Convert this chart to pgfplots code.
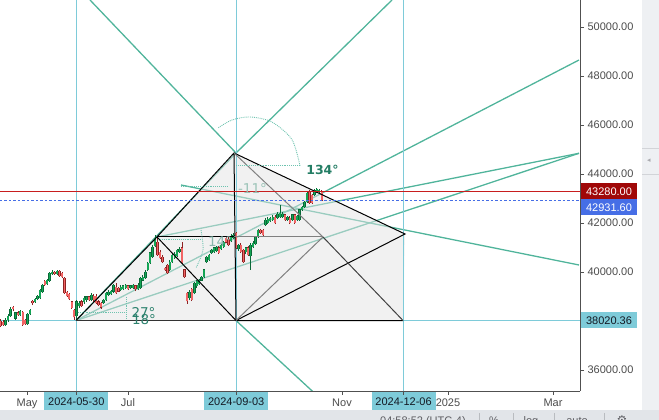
\documentclass[border=0pt]{standalone}
\usepackage{fontspec}
\setmainfont{Liberation Sans}
\newfontfamily\dejavu{DejaVu Sans}
\usepackage{pgfplots}
\pgfplotsset{compat=1.18}
\usepackage{pgfplotstable}

\definecolor{teal1}{RGB}{80,180,155}
\definecolor{tealdot}{RGB}{110,195,175}
\definecolor{vblue}{RGB}{126,203,217}
\definecolor{gfill}{RGB}{20,165,85}
\definecolor{gline}{RGB}{10,105,55}
\definecolor{rfill}{RGB}{242,100,100}
\definecolor{rline}{RGB}{140,35,35}
\definecolor{pricered}{RGB}{160,8,8}
\definecolor{redline}{RGB}{200,30,30}
\definecolor{lastblue}{RGB}{70,110,230}
\definecolor{axgray}{RGB}{80,80,80}
\definecolor{txtgray}{RGB}{75,75,75}
\definecolor{dteal}{RGB}{35,125,100}
\definecolor{shade}{RGB}{228,228,228}
\definecolor{angA}{RGB}{155,195,183}
\definecolor{angB}{RGB}{120,172,160}
\definecolor{angC}{RGB}{45,130,110}
\definecolor{labdark}{RGB}{20,25,35}
\definecolor{stripgray}{RGB}{238,240,243}
\definecolor{stripline}{RGB}{210,212,216}
\definecolor{arrowgray}{RGB}{170,170,175}
\definecolor{toolgray}{RGB}{226,229,233}
\definecolor{sepgray}{RGB}{185,188,192}
\definecolor{tooltext}{RGB}{95,95,100}

\pgfplotstableread{
x o h l c
5.6 37837 38122 37796 38041
8.1 38041 38286 37959 38204
10.5 38204 38571 38163 38490
15.4 38122 38367 38041 38327
20.3 38245 38449 38204 38408
27.7 37878 38327 37837 38286
30.1 38286 38490 38245 38449
35.0 38776 38939 38735 38898
37.5 38898 39061 38857 39020
39.9 38939 39306 38898 39265
42.4 39184 39510 39143 39469
47.3 39510 39714 39469 39673
49.7 39633 40000 39592 39959
52.2 39918 40082 39878 40000
57.1 39918 40082 39878 40041
76.7 38204 38857 38041 38776
79.1 38612 38816 38531 38735
84.0 38776 39020 38694 38939
86.5 38857 39020 38776 38980
91.4 38857 39143 38816 39061
103.6 38735 38898 38694 38857
106.1 38857 39184 38816 39143
108.5 39061 39265 39020 39184
111.0 39102 39265 39061 39224
113.4 39224 39510 39143 39469
120.8 39265 39469 39224 39388
123.2 39306 39469 39265 39429
125.7 39347 39510 39306 39469
130.6 39347 39469 39306 39429
133.0 39347 39510 39306 39469
137.9 39306 39551 39265 39469
140.4 39347 39796 39306 39755
142.8 39673 39878 39633 39796
145.3 39755 40082 39714 40000
147.7 40082 40408 40041 40367
150.2 40367 40816 40327 40776
152.6 40612 41102 40571 41020
155.1 41061 41510 41020 41388
169.8 40082 40490 40041 40408
172.2 40408 40735 40367 40694
174.7 40571 40816 40531 40735
177.1 40653 40939 40612 40898
179.6 40816 41020 40776 40939
189.4 38939 39265 38857 39184
194.3 39143 39592 39102 39551
196.7 39429 39673 39347 39633
199.2 39510 39714 39469 39673
201.6 39673 39837 39633 39796
204.1 39796 40122 39755 40082
206.5 40408 40653 40367 40612
209.0 40490 40735 40449 40694
211.4 40776 40939 40735 40898
213.9 40816 41020 40776 40980
216.3 40857 41061 40816 41020
221.2 40939 41143 40898 41102
223.7 41020 41265 40980 41224
231.0 41265 41551 41224 41469
233.5 41388 41592 41347 41510
238.4 40939 41143 40857 41102
245.7 40816 41020 40735 40980
250.6 40653 41184 40082 41102
253.1 41020 41265 40980 41184
255.5 41143 41469 41102 41429
258.0 41429 41755 41388 41714
265.3 41918 42204 41878 42122
267.8 42000 42245 41959 42163
270.2 42082 42245 42041 42204
272.7 42122 42327 42082 42245
277.6 42204 42449 42163 42367
280.0 42245 42735 42204 42408
282.5 42245 42449 42204 42367
287.4 42122 42286 42082 42245
292.3 42122 42367 42082 42327
297.2 42122 42327 42082 42286
299.6 42122 42571 42082 42531
302.1 42531 42694 42490 42653
304.5 42653 42898 42612 42857
307.0 42857 43265 42816 43224
314.3 43143 43388 43102 43347
316.8 43265 43429 43224 43388
319.2 43265 43388 43184 43347
}\greentab

\pgfplotstableread{
x o h l c
0.7 38000 38082 37755 37796
3.2 37959 38041 37796 37837
13.0 38571 38612 38408 38490
17.9 38327 38408 38204 38245
22.8 38367 38408 37796 37837
25.2 38041 38082 37837 37878
32.6 38816 38857 38653 38735
44.8 39633 39673 39429 39469
54.6 40000 40041 39878 39918
59.5 40041 40082 39796 39837
62.0 39959 40000 39755 39796
64.4 39755 39796 39102 39143
66.9 39184 39224 38980 39020
69.3 39102 39143 38857 38898
71.8 38776 38816 38490 38531
74.2 38449 38490 38041 38163
81.6 38776 38857 38571 38612
88.9 38980 39020 38816 38857
93.8 39020 39102 38776 38857
96.3 39020 39102 38694 38735
98.7 38776 38857 38612 38653
101.2 38735 38776 38490 38571
115.9 39388 39551 39102 39143
118.3 39347 39388 39184 39224
128.1 39429 39469 39265 39306
135.5 39429 39469 39224 39306
157.5 41224 41429 40653 40694
160.0 40816 40898 40531 40571
162.4 40612 40694 40367 40408
164.9 40163 40204 40041 40082
167.3 40286 40327 39918 39959
182.0 40980 41224 40327 40367
184.5 40082 40122 39755 39796
186.9 39143 39184 38694 38816
191.8 39306 39347 38816 38857
218.8 40980 41061 40735 40776
226.1 41388 41429 41184 41224
228.6 41347 41429 41061 41102
235.9 41592 41633 40939 40980
240.8 41102 41184 40776 40816
243.3 40898 40939 40367 40408
248.2 40980 41061 40653 40694
260.4 41714 41755 41551 41592
262.9 41714 41755 41469 41510
275.1 42245 42327 41959 42000
284.9 42327 42367 42082 42122
289.8 42204 42286 41959 42000
294.7 42327 42367 41959 42000
309.4 43265 43347 42776 42816
311.9 43143 43184 42776 42816
321.7 43265 43347 42920 42932
}\redtab

\pgfplotsset{
  cndl/.style 2 args={draw=none, mark=none, forget plot,
    error bars/.cd, y dir=plus, y explicit, error mark=none,
    error bar style={line width=#1, draw=#2, solid}},
}

\begin{document}
\begin{tikzpicture}
\begin{axis}[
  at={(0,0)}, anchor=south west,
  scale only axis, width=580pt, height=391pt,
  xmin=0, xmax=580, ymin=35143, ymax=51102,
  axis x line*=bottom, axis y line*=right,
  axis line style={draw=axgray, line width=0.8pt},
  tick style={draw=axgray, line width=0.8pt},
  tick align=outside, major tick length=4pt,
  xtick={27,128,342,448,553}, xticklabels={May,Jul,Nov,2025,Mar},
  ytick={36000,38000,40000,42000,44000,46000,48000,50000},
  yticklabels={36000.00,,40000.00,42000.00,44000.00,46000.00,48000.00,50000.00},
  ticklabel style={font=\fontsize{11}{13}\selectfont, text=txtgray},
  yticklabel style={anchor=west},
  clip=true,
]
% fan lines under the shading
\addplot[teal1, line width=1.3pt] coordinates {(76,38020) (579,44845)};
\addplot[teal1, line width=1.3pt] coordinates {(157,41429) (579,44845)};
\addplot[teal1, line width=1.3pt] coordinates {(76,38020) (579,48653)};
\addplot[teal1, line width=1.3pt] coordinates {(181,43551) (579,40286)};
\addplot[teal1, line width=1.3pt] coordinates {(76,38020) (236,44857)};
% shading
\addplot[draw=none, fill=shade, fill opacity=0.5] coordinates {(76,38020) (157,41429) (234,44857) (236,38020)};
\addplot[draw=none, fill=shade, fill opacity=0.5] coordinates {(234,44857) (405,41551) (403,38020) (236,38020)};
% other teal lines
\addplot[teal1, line width=1.3pt] coordinates {(90,51102) (236,44857)};
\addplot[teal1, line width=1.3pt] coordinates {(236,44857) (392,51102)};
\addplot[teal1, line width=1.3pt] coordinates {(236,38020) (318.6,34900)};
% reference lines
\addplot[vblue, line width=1pt] coordinates {(76.5,34000) (76.5,52000)};
\addplot[vblue, line width=1pt] coordinates {(236,34000) (236,52000)};
\addplot[vblue, line width=1pt] coordinates {(403.3,34000) (403.3,52000)};
\addplot[vblue, line width=1pt] coordinates {(0,38020.36) (580,38020.36)};
% candles: wicks, outlines, bodies
\addplot[cndl={0.7pt}{gline}] table[x=x, y=l, y error plus expr={\thisrow{h}-\thisrow{l}}] \greentab;
\addplot[cndl={0.7pt}{rline}] table[x=x, y=l, y error plus expr={\thisrow{h}-\thisrow{l}}] \redtab;
\addplot[cndl={2.4pt}{gline}] table[x=x, y expr={min(\thisrow{o},\thisrow{c})-20}, y error plus expr={abs(\thisrow{o}-\thisrow{c})+40}] \greentab;
\addplot[cndl={2.4pt}{rline}] table[x=x, y expr={min(\thisrow{o},\thisrow{c})-20}, y error plus expr={abs(\thisrow{o}-\thisrow{c})+40}] \redtab;
\addplot[cndl={1.6pt}{gfill}] table[x=x, y expr={min(\thisrow{o},\thisrow{c})}, y error plus expr={abs(\thisrow{o}-\thisrow{c})}] \greentab;
\addplot[cndl={1.6pt}{rfill}] table[x=x, y expr={min(\thisrow{o},\thisrow{c})}, y error plus expr={abs(\thisrow{o}-\thisrow{c})}] \redtab;
% black / gray pattern lines
\addplot[black, line width=1pt] coordinates {(76,38020) (157,41429) (234,44857) (236,38020) (403,38020)};
\addplot[black!80, line width=1pt] coordinates {(76,38020) (236,38020)};
\addplot[black, line width=1pt] coordinates {(157,41429) (236,38020) (405,41551) (234,44857)};
\addplot[black, line width=1pt] coordinates {(157,41429) (234,41429)};
\addplot[gray, line width=1pt] coordinates {(234,41429) (323,41429)};
\addplot[gray, line width=1pt] coordinates {(234,44857) (323,41429) (236,38020)};
\addplot[black!75, line width=1pt] coordinates {(323,41429) (403,38020)};
% dotted angle helpers
\addplot[tealdot, densely dotted, line width=0.9pt, smooth] coordinates {(300,44330) (292,45400) (272,46120) (250,46327) (232,46204) (218,45878)};
\addplot[tealdot, densely dotted, line width=0.9pt] coordinates {(236,44330) (300,44330)};
\addplot[tealdot, densely dotted, line width=0.9pt] coordinates {(181,43510) (228,43510)};
\addplot[tealdot, densely dotted, line width=0.9pt] coordinates {(78,38367) (126,38367)};
\addplot[tealdot, densely dotted, line width=0.9pt] coordinates {(126,38980) (126,38122)};
\addplot[tealdot, densely dotted, line width=0.9pt] coordinates {(158,41335) (201,41335)};
\addplot[tealdot, densely dotted, line width=0.9pt, smooth] coordinates {(201,41714) (203,40898) (196,40163)};
% last price line
\addplot[draw=lastblue, line width=0.9pt, dash pattern=on 2.5pt off 2pt] coordinates {(0,42931.6) (580,42931.6)};
\end{axis}

\begin{scope}[x=1pt, y=-1pt, shift={(0pt,391pt)}]
% horizontal price line at 43280
\fill[redline] (0,190.9) rectangle (580,192.3);
% angle labels
\node[font=\dejavu\bfseries\fontsize{12.5}{14}\selectfont, text=dteal] at (322.5,169.5) {134°};
\node[font=\dejavu\fontsize{13.5}{15}\selectfont, text=angA] at (252.5,188) {-11°};
\node[font=\dejavu\fontsize{13.5}{15}\selectfont, text=angB, opacity=0.85] at (220,241) {14°};
\node[font=\dejavu\fontsize{13.5}{15}\selectfont, text=angC] at (143.5,312.5) {27°};
\node[font=\dejavu\fontsize{13.5}{15}\selectfont, text=angC] at (144,319.5) {18°};
% right price boxes
\fill[pricered] (580.5,183.5) rectangle (637,199.5);
\node[text=white, font=\fontsize{11}{13}\selectfont] at (609,191.5) {43280.00};
\fill[lastblue] (580.5,199.5) rectangle (637,215.5);
\node[text=white, font=\fontsize{11}{13}\selectfont] at (609,207.5) {42931.60};
\fill[vblue] (580.5,312.5) rectangle (637,328.5);
\node[text=labdark, font=\fontsize{11}{13}\selectfont] at (609,320.5) {38020.36};
% date boxes
\foreach \cx/\lab in {76.3/2024-05-30, 236.2/2024-09-03, 403.6/2024-12-06}{
  \fill[vblue] (\cx-32,391.6) rectangle (\cx+32,410);
  \draw[axgray, line width=0.8pt] (\cx,391) -- (\cx,395);
  \node[text=labdark, font=\fontsize{11}{13}\selectfont] at (\cx,401.5) {\lab};
}
% right strip
\fill[stripgray] (642,0) rectangle (659,420);
\draw[stripline, line width=0.6pt] (642,148) -- (659,148);
\draw[stripline, line width=0.6pt] (642,174) -- (659,174);
\node[font=\dejavu\fontsize{7}{8}\selectfont, text=arrowgray] at (649,161) {◂};
% bottom toolbar
\fill[toolgray] (0,410) rectangle (659,430);
\foreach \sx in {479,513,554,604}{
  \draw[sepgray, line width=0.7pt] (\sx,413) -- (\sx,425);
}
\node[anchor=base, font=\fontsize{11}{13}\selectfont, text=tooltext] at (423,424.5) {04:58:52 (UTC-4)};
\node[anchor=base, font=\fontsize{11}{13}\selectfont, text=tooltext] at (494,424.5) {\%};
\node[anchor=base, font=\fontsize{11}{13}\selectfont, text=tooltext] at (531,424.5) {log};
\node[anchor=base, font=\fontsize{11}{13}\selectfont, text=tooltext] at (577,424.5) {auto};
\node[anchor=base, font=\dejavu\fontsize{12}{13}\selectfont, text=tooltext] at (622,424.5) {⚙};
\pgfresetboundingbox
\useasboundingbox (0,0) rectangle (659,420);
\end{scope}
\end{tikzpicture}
\end{document}
